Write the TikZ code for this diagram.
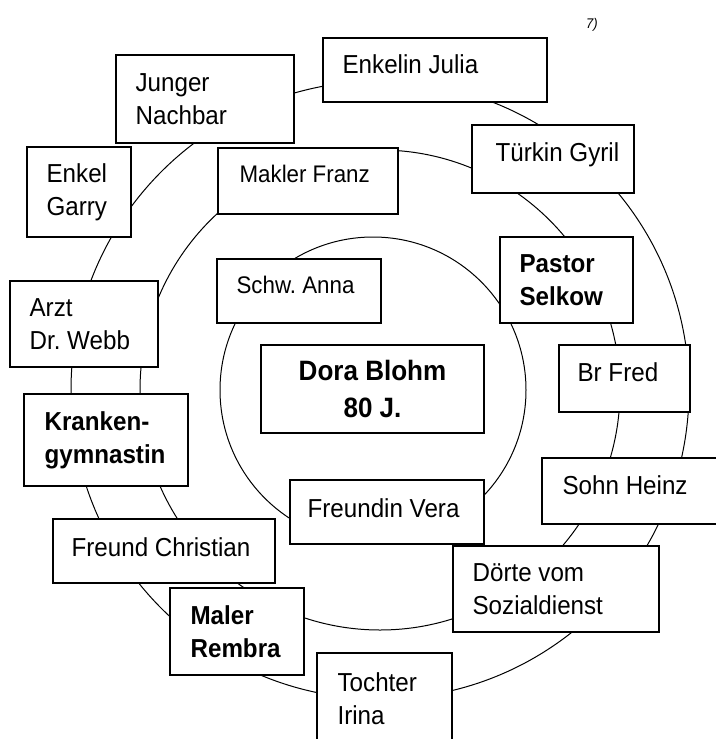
\documentclass[tikz,border=0pt]{standalone}
\usepackage{fontspec}
\setmainfont{Liberation Sans}[FakeStretch=0.93]
\frenchspacing
\begin{document}
\begin{tikzpicture}[x=0.5pt,y=-0.5pt,
  ring/.style={draw, line width=0.5pt},
  box/.style={draw, line width=0.8pt, fill=white, inner sep=0pt},
  lbl/.style={anchor=west, inner sep=0pt, align=left, font=\fontsize{13pt}{16.5pt}\selectfont},
  lblb/.style={lbl, font=\bfseries\fontsize{13pt}{16.5pt}\selectfont},
  lbls/.style={lbl, font=\fontsize{12pt}{14pt}\selectfont},
  center/.style={box, align=center, font=\bfseries\fontsize{14pt}{18.5pt}\selectfont},
  note/.style={inner sep=0pt, font=\itshape\fontsize{7pt}{8pt}\selectfont}
]
\useasboundingbox (0,0) rectangle (716,739);
% the three circles
\coordinate (c0) at (373,390);
\coordinate (c1) at (380,390);
\draw[ring] (c0) circle [radius=153];
\draw[ring] (c1) circle [radius=240];
\draw[ring] (c1) circle [radius=309];
% boxes
\node[box, minimum width=112pt, minimum height=32pt, label={[lbl,xshift=10pt,yshift=3pt]west:Enkelin Julia}] (julia) at (435,70) {};
\node[box, minimum width=89pt, minimum height=44pt, label={[lbl,xshift=10pt]west:{Junger\\Nachbar}}] (nachbar) at (205,99) {};
\node[box, minimum width=52pt, minimum height=45pt, label={[lbl,xshift=10pt]west:{Enkel\\Garry}}] (garry) at (79,192) {};
\node[box, minimum width=90pt, minimum height=33pt, label={[lbls,xshift=11pt,yshift=3.5pt]west:Makler Franz}] (makler) at (308,181) {};
\node[box, minimum width=81pt, minimum height=34pt, label={[lbl,xshift=12pt,yshift=2pt]west:Türkin Gyril}] (gyril) at (553,159) {};
\node[box, minimum width=66.5pt, minimum height=43pt, label={[lblb,xshift=10pt]west:{Pastor\\Selkow}}] (pastor) at (566.5,280) {};
\node[box, minimum width=82pt, minimum height=32pt, label={[lbls,xshift=10pt,yshift=3pt]west:Schw. Anna}] (anna) at (299,291) {};
\node[box, minimum width=74pt, minimum height=43pt, label={[lbl,xshift=10pt]west:{Arzt\\Dr. Webb}}] (webb) at (84,324) {};
\node[box, minimum width=65.5pt, minimum height=33.5pt, label={[lbl,xshift=9.5pt,yshift=3pt]west:Br Fred}] (fred) at (624.5,378.5) {};
\node[center, minimum width=111.5pt, minimum height=44pt] (dora) at (372.5,389) {Dora Blohm\\80 J.};
\node[box, minimum width=82pt, minimum height=46pt, label={[lblb,xshift=10.5pt]west:{Kranken-\\gymnastin}}] (kranken) at (106,440) {};
\node[box, minimum width=94pt, minimum height=33pt, label={[lbl,xshift=10.5pt,yshift=3pt]west:Sohn Heinz}] (heinz) at (636,491) {};
\node[box, minimum width=97pt, minimum height=32pt, label={[lbl,xshift=9pt,yshift=2pt]west:Freundin Vera}] (vera) at (387,512) {};
\node[box, minimum width=103pt, minimum height=43pt, label={[lbl,xshift=10pt]west:{Dörte vom\\Sozialdienst}}] (doerte) at (556,589) {};
\node[box, minimum width=111pt, minimum height=32pt, label={[lbl,xshift=9.5pt,yshift=2pt]west:Freund Christian}] (christian) at (164,551) {};
\node[box, minimum width=67pt, minimum height=43.5pt, label={[lblb,xshift=10.5pt]west:{Maler\\Rembra}}] (maler) at (237,631.5) {};
\node[box, minimum width=67.5pt, minimum height=46pt, label={[lbl,xshift=10.5pt]west:{Tochter\\Irina}}] (tochter) at (384.5,699) {};
\node[note] (num) at (592,25) {7)};
\end{tikzpicture}
\end{document}
